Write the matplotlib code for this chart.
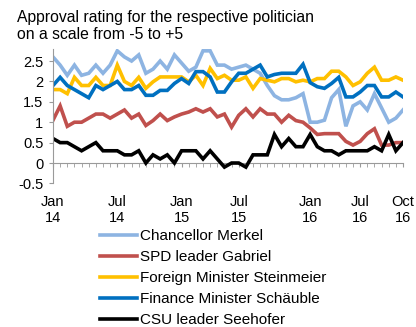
import numpy as np
import matplotlib.pyplot as plt
from matplotlib.ticker import FixedLocator

plt.rcParams['font.family'] = ['Liberation Sans', 'DejaVu Sans']

# Survey rounds Jan 2014 .. Oct 2016 (50 points, approval on -5..+5 scale)
merkel = [2.6, 2.4, 2.15, 2.4, 2.15, 2.2, 2.4, 2.2, 2.4, 2.75, 2.6, 2.5, 2.65,
          2.2, 2.3, 2.5, 2.3, 2.65, 2.45, 2.25, 2.35, 2.75, 2.75, 2.4, 2.4,
          2.3, 2.35, 2.4, 2.3, 2.2, 1.9, 1.65, 1.55, 1.55, 1.6, 1.7, 1.0, 1.0,
          1.05, 1.6, 1.8, 0.9, 1.4, 1.5, 1.3, 1.7, 1.35, 1.0, 1.1, 1.3]
gabriel = [1.05, 1.4, 0.9, 1.0, 1.0, 1.1, 1.2, 1.2, 1.1, 1.2, 1.3, 1.1, 1.2,
           0.92, 1.04, 1.2, 1.04, 1.13, 1.2, 1.25, 1.33, 1.25, 1.33, 1.13, 1.2,
           0.88, 1.17, 1.33, 1.13, 1.33, 1.2, 1.2, 1.0, 1.17, 1.04, 1.0, 0.86, 0.7,
           0.72, 0.72, 0.72, 0.53, 0.44, 0.53, 0.72, 0.84, 0.44, 0.44, 0.5, 0.5]
steinmeier = [1.8, 1.8, 1.7, 2.1, 1.9, 1.9, 2.1, 1.9, 1.9, 2.4, 2.0, 1.9, 2.1,
              1.83, 1.99, 2.11, 2.11, 2.11, 2.11, 1.99, 2.15, 1.9, 2.32, 2.07, 2.15,
              2.03, 2.03, 2.11, 1.83, 2.07, 2.03, 1.99, 2.07, 2.07, 1.99, 2.03, 1.99, 2.07,
              2.07, 2.25, 2.25, 2.11, 1.9, 1.99, 2.2, 2.35, 2.03, 2.03, 2.11, 2.03]
schaeuble = [1.9, 2.1, 1.9, 1.8, 1.7, 1.6, 1.9, 1.8, 1.9, 2.0, 1.8, 1.8, 1.9,
             1.66, 1.66, 1.78, 1.78, 1.95, 2.07, 1.95, 2.24, 2.24, 2.11, 1.74, 1.74,
             1.99, 2.2, 2.2, 2.3, 2.4, 2.11, 2.17, 2.2, 2.2, 2.2, 2.42, 1.97, 1.87,
             1.83, 1.95, 2.1, 1.62, 1.62, 1.74, 1.9, 1.9, 1.62, 1.62, 1.74, 1.62]
seehofer = [0.6, 0.5, 0.5, 0.4, 0.3, 0.4, 0.5, 0.3, 0.3, 0.3, 0.2, 0.2, 0.3,
            0.0, 0.2, 0.1, 0.2, 0.0, 0.3, 0.3, 0.3, 0.1, 0.3, 0.1, -0.1, 0.0, 0.0,
            -0.1, 0.2, 0.2, 0.2,
            0.7, 0.4, 0.6, 0.4, 0.4, 0.7, 0.4, 0.3, 0.3, 0.2, 0.3, 0.3, 0.3, 0.3,
            0.4, 0.3, 0.7, 0.3, 0.5]

tick_pos = [0, 9, 18, 26, 36, 43, 49]
tick_labels = ['Jan\n14', 'Jul\n14', 'Jan\n15', 'Jul\n15', 'Jan\n16', 'Jul\n16', 'Oct\n16']

series = [
    ('Chancellor Merkel', merkel, '#8db4e2'),
    ('SPD leader Gabriel', gabriel, '#c0504d'),
    ('Foreign Minister Steinmeier', steinmeier, '#ffc000'),
    ('Finance Minister Schäuble', schaeuble, '#0070c0'),
    ('CSU leader Seehofer', seehofer, '#000000'),
]

fig = plt.figure(figsize=(4.16, 3.27), dpi=100)
ax = fig.add_axes([0.1274, 0.4391, 0.9688 - 0.1274, 0.4117])

x = np.arange(len(merkel))
for name, vals, col in series:
    ax.plot(x, vals, color=col, lw=2.6, label=name, solid_joinstyle='miter')

ax.set_xlim(0, len(merkel) - 1)
ax.set_ylim(-0.5, 2.8)
ax.set_yticks(np.arange(-0.5, 2.51, 0.5))
ax.set_yticklabels(['-0.5', '0', '0.5', '1', '1.5', '2', '2.5'])

ax.xaxis.set_major_locator(FixedLocator(tick_pos))
ax.xaxis.set_minor_locator(FixedLocator(x))
ax.set_xticklabels(tick_labels, linespacing=1.25)

for s in ['top', 'right']:
    ax.spines[s].set_visible(False)
ax.spines['bottom'].set_position(('data', 0))
ax.spines['bottom'].set_zorder(0)
for s in ['left', 'bottom']:
    ax.spines[s].set_color('#9a9a9a')
    ax.spines[s].set_linewidth(0.8)

ax.tick_params(axis='y', length=3, color='#9a9a9a', labelsize=10.5, pad=4)
ax.tick_params(axis='x', which='both', length=3, color='#9a9a9a', labelsize=10.5, pad=20)

# title text
fig.text(17 / 416, 1 - 10 / 327,
         'Approval rating for the respective politician\non a scale from -5 to +5',
         ha='left', va='top', fontsize=11.3, linespacing=1.2)

fig.legend(loc='upper left', bbox_to_anchor=(100 / 416, 1 - 229 / 327),
           frameon=False, fontsize=11, handlelength=2.45, handletextpad=0.2,
           labelspacing=0.46, borderpad=0, borderaxespad=0)

fig.savefig('out.png', dpi=100)
